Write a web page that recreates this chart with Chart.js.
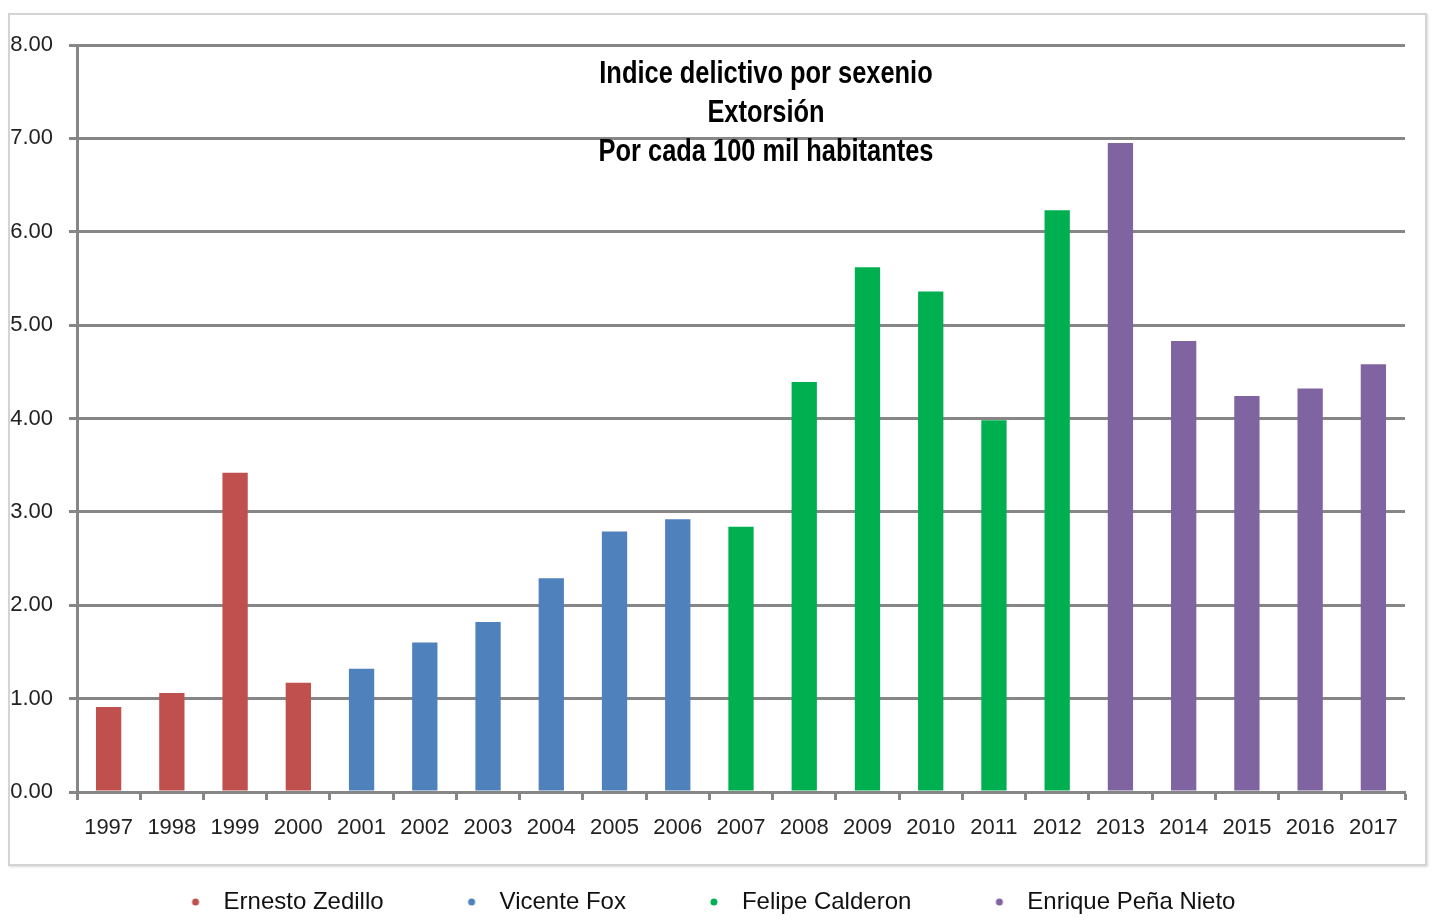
<!DOCTYPE html>
<html>
<head>
<meta charset="utf-8">
<script src="https://cdn.jsdelivr.net/npm/chart.js@4.4.1/dist/chart.umd.min.js"></script>
<style>
    html, body { margin: 0; padding: 0; background: #fff; }
    #wrap { position: relative; width: 1432px; height: 920px; }
    #frame {
        position: absolute; left: 8px; top: 13px; width: 1415px; height: 849px;
        border: 2px solid #d4d4d4; box-shadow: 1px 1px 2px rgba(0, 0, 0, 0.15);
        pointer-events: none;
    }
    canvas { position: absolute; left: 0; top: 0; }
</style>
</head>
<body>
<div id="wrap">
    <div id="frame"></div>
    <canvas id="chart" width="1432" height="920"></canvas>
</div>
<script>
const years = ["1997", "1998", "1999", "2000", "2001", "2002", "2003", "2004", "2005", "2006", "2007",
    "2008", "2009", "2010", "2011", "2012", "2013", "2014", "2015", "2016", "2017"];
const presidents = ["Ernesto Zedillo", "Vicente Fox", "Felipe Calderon", "Enrique Peña Nieto"];
const zedilloValues = [0.91, 1.06, 3.42, 1.17];
const foxValues = [1.32, 1.60, 1.82, 2.29, 2.79, 2.92];
const calderonValues = [2.84, 4.39, 5.62, 5.36, 3.98, 6.23];
const penaValues = [6.95, 4.83, 4.24, 4.32, 4.58];
const yTicks = [0, 1, 2, 3, 4, 5, 6, 7, 8];
const titleLines = ["Indice delictivo por sexenio", "Extorsión", "Por cada 100 mil habitantes"];

const colors = ["#c0504d", "#4f81bd", "#00b050", "#8064a2"];
const gridColor = "#868686";
const sans = "'Liberation Sans', Arial, sans-serif";

// each term fills its own run of years, the rest stays null
function padTerm(values, startIndex) {
    return years.map((_, i) => {
        const j = i - startIndex;
        return j >= 0 && j < values.length ? values[j] : null;
    });
}

// legend marker: blank lead-in on the left, small dot near the right edge
const markerWidth = 94;
function dotImage(color) {
    const c = document.createElement("canvas");
    c.width = markerWidth;
    c.height = 10;
    const g = c.getContext("2d");
    g.fillStyle = color;
    g.beginPath();
    g.arc(markerWidth - 16, 5, 3.5, 0, Math.PI * 2);
    g.fill();
    return c;
}

const termValues = [zedilloValues, foxValues, calderonValues, penaValues];
let start = 0;
const datasets = termValues.map((values, k) => {
    const ds = {
        label: presidents[k],
        data: padTerm(values, start),
        backgroundColor: colors[k],
        pointStyle: dotImage(colors[k]),
        categoryPercentage: 1,
        barPercentage: 0.4,
    };
    start += values.length;
    return ds;
});

const titlePlugin = {
    id: "innerTitle",
    afterDraw(chart) {
        const { ctx, chartArea } = chart;
        const cx = (chartArea.left + chartArea.right) / 2 + 25;
        const squeeze = 0.82;
        ctx.save();
        ctx.fillStyle = "#000";
        ctx.font = `bold 31px ${sans}`;
        ctx.textAlign = "center";
        ctx.textBaseline = "middle";
        ctx.scale(squeeze, 1);
        titleLines.forEach((line, i) => {
            ctx.fillText(line, cx / squeeze, chartArea.top + 29 + i * 39);
        });
        ctx.restore();
    },
};

// the legend row sits a little left of centre in the original
const legendShift = {
    id: "legendShift",
    afterLayout(chart) {
        if (!chart.legend) return;
        chart.legend.left -= 26;
        chart.legend.right -= 26;
    },
};

new Chart(document.getElementById("chart"), {
    type: "bar",
    data: { labels: years, datasets },
    plugins: [titlePlugin, legendShift],
    options: {
        responsive: false,
        animation: false,
        layout: { padding: { left: 0, right: 27, top: 45, bottom: -4 } },
        scales: {
            x: {
                stacked: true,
                offset: true,
                grid: {
                    offset: true,
                    drawOnChartArea: false,
                    drawTicks: true,
                    tickLength: 8,
                    tickWidth: 3,
                    tickColor: gridColor,
                },
                border: { display: true, color: gridColor, width: 3 },
                ticks: {
                    color: "#222",
                    padding: 15,
                    maxRotation: 0,
                    autoSkip: false,
                    font: { family: sans, size: 22 },
                },
                afterFit(scale) { scale.height = 88; },
            },
            y: {
                stacked: true,
                min: 0,
                max: 8,
                afterBuildTicks(scale) { scale.ticks = yTicks.map((v) => ({ value: v })); },
                grid: {
                    color: gridColor,
                    lineWidth: 3,
                    tickLength: 8,
                    tickWidth: 3,
                    tickColor: gridColor,
                },
                border: { display: true, color: gridColor, width: 3 },
                ticks: {
                    color: "#222",
                    padding: 16,
                    font: { family: sans, size: 22 },
                    callback: (value) => Number(value).toFixed(2),
                },
                afterFit(scale) { scale.width = 77; },
            },
        },
        plugins: {
            legend: {
                position: "bottom",
                labels: {
                    usePointStyle: true,
                    pointStyleWidth: markerWidth,
                    boxHeight: 10,
                    padding: 10,
                    color: "#111",
                    font: { family: sans, size: 24 },
                },
            },
            tooltip: { enabled: false },
        },
    },
});
</script>
</body>
</html>
